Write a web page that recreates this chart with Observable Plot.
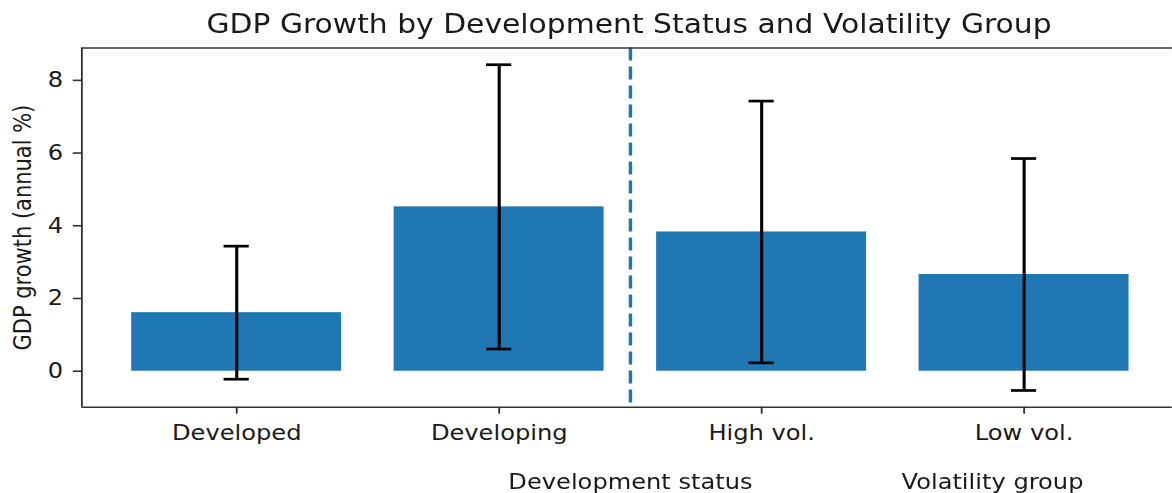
<!DOCTYPE html>
<html>
<head>
<meta charset="utf-8">
<script src="https://cdn.jsdelivr.net/npm/d3@7"></script>
<script src="https://cdn.jsdelivr.net/npm/@observablehq/plot@0.6"></script>
<style>
  html, body { margin: 0; padding: 0; background: white; }
  #wrap { width: 1019px; transform: scaleX(1.15); transform-origin: 0 0; font-family: "DejaVu Sans", sans-serif; color: #1a1a1a; }
  #title { position: relative; height: 40px; }
  #title span { position: absolute; left: 547px; top: 11px; transform: translateX(-50%); white-space: nowrap; font-size: 25.9px; line-height: 26px; }
</style>
</head>
<body>
<div id="wrap">
  <div id="title"><span>GDP Growth by Development Status and Volatility Group</span></div>
  <div id="chart"></div>
</div>
<script>
const categories = ["Developed", "Developing", "High vol.", "Low vol."];
const means = [1.61, 4.52, 3.83, 2.66];
const errs = [1.83, 3.91, 3.60, 3.19];
const yTicks = [0, 2, 4, 6, 8];
const groupLabels = ["Development status", "Volatility group"];
const yLabel = "GDP growth (annual %)";

const rows = categories.map((c, i) => ({i, c, mean: means[i], lo: means[i] - errs[i], hi: means[i] + errs[i]}));
const idx = rows.map(d => d.i);
const xDomain = [-0.59, 3.565];
const yDomain = [-0.99, 8.89];
const barHalf = 0.4;
const capHalf = 0.048;
const separator = (1 + 2) / 2; // between last "development" bar and first "volatility" bar

const spine = {stroke: "#333", strokeWidth: 1.6};
const errStyle = {stroke: "black", strokeWidth: 2.7};

const chart = Plot.plot({
  width: 1019,
  height: 453,
  marginLeft: 70.7,
  marginRight: 0,
  marginTop: 7.5,
  marginBottom: 86.3,
  style: {fontFamily: "DejaVu Sans", fontSize: "21px", color: "#1a1a1a", background: "white", overflow: "visible"},
  x: {type: "linear", domain: xDomain},
  y: {domain: yDomain},
  marks: [
    Plot.rectY(rows, {x1: d => d.i - barHalf, x2: d => d.i + barHalf, y: "mean", fill: "#1f77b4"}),
    Plot.ruleX(rows, {x: "i", y1: "lo", y2: "hi", ...errStyle}),
    Plot.ruleY(rows, {x1: d => d.i - capHalf, x2: d => d.i + capHalf, y: "lo", ...errStyle}),
    Plot.ruleY(rows, {x1: d => d.i - capHalf, x2: d => d.i + capHalf, y: "hi", ...errStyle}),
    Plot.ruleX([separator], {stroke: "#1f77b4", strokeWidth: 3, strokeDasharray: "13,6"}),
    Plot.ruleX([xDomain[0]], spine),
    Plot.ruleY([yDomain[0], yDomain[1]], spine),
    Plot.axisY({ticks: yTicks, tickSize: 7.4, tickPadding: 9, label: null, stroke: "#333", strokeWidth: 1.6, fontSize: 21}),
    Plot.axisX({ticks: idx, tickFormat: i => categories[i], tickSize: 7, tickPadding: 11, label: null, stroke: "#333", strokeWidth: 1.6, fontSize: 21}),
    Plot.text([yLabel], {text: d => d, frameAnchor: "left", textAnchor: "middle", rotate: -90, dx: -51.3, fontSize: 21}),
    Plot.text([groupLabels[0]], {text: d => d, frameAnchor: "bottom", textAnchor: "middle", dx: 2.9, dy: 81.5, fontSize: 21}),
    Plot.text([groupLabels[1]], {text: d => d, frameAnchor: "bottom", textAnchor: "middle", dx: 317.7, dy: 81.5, fontSize: 21})
  ]
});
document.getElementById("chart").appendChild(chart);
</script>
</body>
</html>
